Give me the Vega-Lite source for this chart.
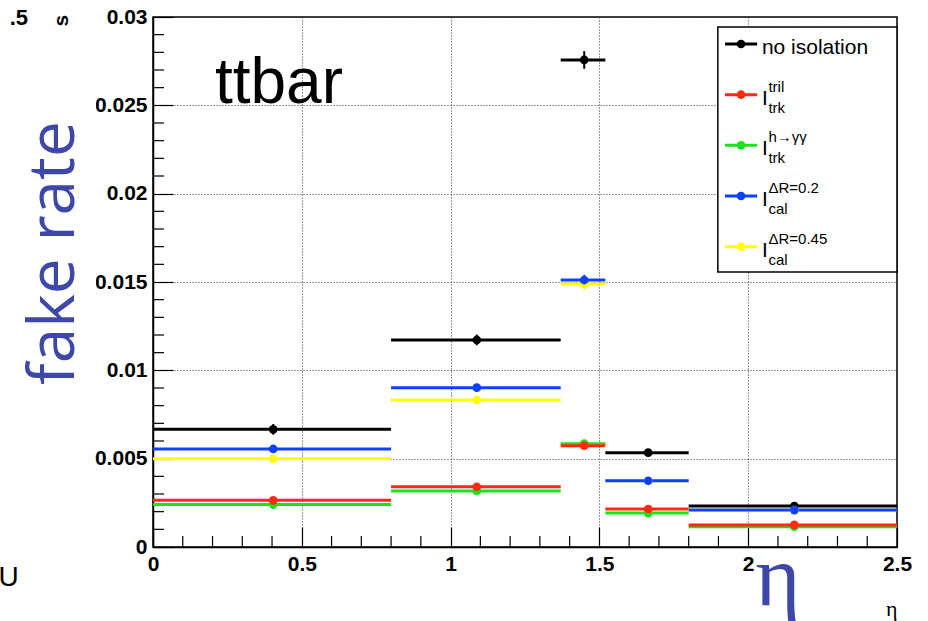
{
  "$schema": "https://vega.github.io/schema/vega-lite/v6.json",
  "width": 744,
  "height": 530,
  "autosize": {"type": "none"},
  "padding": {"left": 153, "top": 17, "right": 31, "bottom": 74},
  "background": "white",
  "config": {
    "view": {"stroke": "black", "strokeWidth": 1.5},
    "font": "Liberation Sans"
  },
  "datasets": {
    "bins": [
      {"series": "no isolation", "xlo": 0, "xhi": 0.8, "xm": 0.404, "y": 0.00666, "err": 0.0003},
      {"series": "no isolation", "xlo": 0.8, "xhi": 1.37, "xm": 1.088, "y": 0.01172, "err": 0.0003},
      {"series": "no isolation", "xlo": 1.37, "xhi": 1.52, "xm": 1.449, "y": 0.02757, "err": 0.0005},
      {"series": "no isolation", "xlo": 1.52, "xhi": 1.8, "xm": 1.664, "y": 0.00534, "err": 0.0002},
      {"series": "no isolation", "xlo": 1.8, "xhi": 2.5, "xm": 2.155, "y": 0.00232, "err": 0.0002},
      {"series": "dR045", "xlo": 0, "xhi": 0.8, "xm": 0.404, "y": 0.0050, "err": 0.0002},
      {"series": "dR045", "xlo": 0.8, "xhi": 1.37, "xm": 1.088, "y": 0.00832, "err": 0.0002},
      {"series": "dR045", "xlo": 1.37, "xhi": 1.52, "xm": 1.449, "y": 0.01489, "err": 0.0003},
      {"series": "dR045", "xlo": 1.52, "xhi": 1.8, "xm": 1.664, "y": 0.00375, "err": 0.0002},
      {"series": "dR045", "xlo": 1.8, "xhi": 2.5, "xm": 2.155, "y": 0.00209, "err": 0.0001},
      {"series": "dR02", "xlo": 0, "xhi": 0.8, "xm": 0.404, "y": 0.00555, "err": 0.0002},
      {"series": "dR02", "xlo": 0.8, "xhi": 1.37, "xm": 1.088, "y": 0.00902, "err": 0.0002},
      {"series": "dR02", "xlo": 1.37, "xhi": 1.52, "xm": 1.449, "y": 0.01511, "err": 0.0003},
      {"series": "dR02", "xlo": 1.52, "xhi": 1.8, "xm": 1.664, "y": 0.00375, "err": 0.0002},
      {"series": "dR02", "xlo": 1.8, "xhi": 2.5, "xm": 2.155, "y": 0.00209, "err": 0.0001},
      {"series": "hgg", "xlo": 0, "xhi": 0.8, "xm": 0.404, "y": 0.0024, "err": 0.0002},
      {"series": "hgg", "xlo": 0.8, "xhi": 1.37, "xm": 1.088, "y": 0.00317, "err": 0.0002},
      {"series": "hgg", "xlo": 1.37, "xhi": 1.52, "xm": 1.449, "y": 0.00585, "err": 0.0002},
      {"series": "hgg", "xlo": 1.52, "xhi": 1.8, "xm": 1.664, "y": 0.00192, "err": 0.0001},
      {"series": "hgg", "xlo": 1.8, "xhi": 2.5, "xm": 2.155, "y": 0.00115, "err": 0.0001},
      {"series": "tril", "xlo": 0, "xhi": 0.8, "xm": 0.404, "y": 0.00264, "err": 0.0002},
      {"series": "tril", "xlo": 0.8, "xhi": 1.37, "xm": 1.088, "y": 0.00341, "err": 0.0002},
      {"series": "tril", "xlo": 1.37, "xhi": 1.52, "xm": 1.449, "y": 0.00573, "err": 0.0002},
      {"series": "tril", "xlo": 1.52, "xhi": 1.8, "xm": 1.664, "y": 0.00215, "err": 0.0001},
      {"series": "tril", "xlo": 1.8, "xhi": 2.5, "xm": 2.155, "y": 0.00125, "err": 0.0001}
    ],
    "legend": [
      {"series": "no isolation", "main": "no isolation", "sup": "", "sub": ""},
      {"series": "tril", "main": "I", "sup": "tril", "sub": "trk"},
      {"series": "hgg", "main": "I", "sup": "h→γγ", "sub": "trk"},
      {"series": "dR02", "main": "I", "sup": "ΔR=0.2", "sub": "cal"},
      {"series": "dR045", "main": "I", "sup": "ΔR=0.45", "sub": "cal"}
    ],
    "xminor": [
      {"t": 0.1}, {"t": 0.2}, {"t": 0.3}, {"t": 0.4}, {"t": 0.6}, {"t": 0.7}, {"t": 0.8}, {"t": 0.9},
      {"t": 1.1}, {"t": 1.2}, {"t": 1.3}, {"t": 1.4}, {"t": 1.6}, {"t": 1.7}, {"t": 1.8}, {"t": 1.9},
      {"t": 2.1}, {"t": 2.2}, {"t": 2.3}, {"t": 2.4}
    ],
    "yminor": [
      {"t": 0.001}, {"t": 0.002}, {"t": 0.003}, {"t": 0.004}, {"t": 0.006}, {"t": 0.007}, {"t": 0.008}, {"t": 0.009},
      {"t": 0.011}, {"t": 0.012}, {"t": 0.013}, {"t": 0.014}, {"t": 0.016}, {"t": 0.017}, {"t": 0.018}, {"t": 0.019},
      {"t": 0.021}, {"t": 0.022}, {"t": 0.023}, {"t": 0.024}, {"t": 0.026}, {"t": 0.027}, {"t": 0.028}, {"t": 0.029}
    ]
  },
  "layer": [
    {
      "data": {"name": "bins"},
      "layer": [
        {
          "mark": {"type": "rule", "strokeWidth": 3},
          "encoding": {
            "x": {
              "field": "xlo", "type": "quantitative", "title": "η",
              "scale": {"domain": [0, 2.5], "nice": false, "zero": false},
              "axis": {
                "values": [0, 0.5, 1, 1.5, 2, 2.5],
                "format": "~g",
                "labelFont": "Liberation Sans", "labelFontWeight": "bold", "labelFontSize": 21, "labelColor": "black",
                "labelOverlap": false, "labelFlush": false, "labelPadding": 26,
                "tickColor": "black", "tickWidth": 1.2, "tickSize": -20,
                "domainColor": "black", "domainWidth": 1.5,
                "grid": true, "gridColor": "#333333", "gridDash": [1, 2], "gridWidth": 1,
                "titleFont": "Liberation Serif", "titleFontSize": 22, "titleFontWeight": "normal", "titleColor": "black",
                "titleAnchor": "end", "titleAlign": "right", "titleX": 744, "titleY": 68, "titleBaseline": "alphabetic"
              }
            },
            "x2": {"field": "xhi"},
            "y": {
              "field": "y", "type": "quantitative", "title": null,
              "scale": {"domain": [0, 0.03], "nice": false, "zero": true},
              "axis": {
                "values": [0, 0.005, 0.01, 0.015, 0.02, 0.025, 0.03],
                "format": "~g", "zindex": 0,
                "labelFont": "Liberation Sans", "labelFontWeight": "bold", "labelFontSize": 21, "labelColor": "black",
                "labelOverlap": false, "labelFlush": false, "labelPadding": 26,
                "tickColor": "black", "tickWidth": 1.2, "tickSize": -20,
                "domainColor": "black", "domainWidth": 1.5,
                "grid": true, "gridColor": "#333333", "gridDash": [1, 2], "gridWidth": 1
              }
            },
            "color": {
              "field": "series", "type": "nominal",
              "scale": {"domain": ["no isolation", "tril", "hgg", "dR02", "dR045"], "range": ["#000000", "#ff2a10", "#1ee01e", "#1040ff", "#ffff00"]},
              "legend": null
            }
          }
        },
        {
          "data": {"name": "xminor"},
          "mark": {"type": "rule", "color": "black", "strokeWidth": 1.2},
          "encoding": {
            "x": {"field": "t", "type": "quantitative", "title": "η"},
            "y": {"datum": 0},
            "y2": {"datum": 0.00062}
          }
        },
        {
          "data": {"name": "yminor"},
          "mark": {"type": "rule", "color": "black", "strokeWidth": 1.2},
          "encoding": {
            "y": {"field": "t", "type": "quantitative", "title": null},
            "x": {"datum": 0},
            "x2": {"datum": 0.037}
          }
        },
        {
          "mark": {"type": "errorbar", "ticks": false, "thickness": 2},
          "encoding": {
            "x": {"field": "xm", "type": "quantitative", "title": "η"},
            "y": {"field": "y", "type": "quantitative", "title": null},
            "yError": {"field": "err"},
            "color": {"field": "series", "type": "nominal"}
          }
        },
        {
          "mark": {"type": "point", "filled": true, "size": 75, "opacity": 1},
          "encoding": {
            "x": {"field": "xm", "type": "quantitative", "title": "η"},
            "y": {"field": "y", "type": "quantitative", "title": null},
            "color": {"field": "series", "type": "nominal"}
          }
        },
        {
          "data": {"values": [{}]},
          "mark": {"type": "rect", "fill": "white", "clip": false},
          "encoding": {"x": {"datum": -0.52}, "x2": {"datum": -0.1915}, "y": {"datum": 0.00719}, "y2": {"datum": 0.02598}}
        },
        {
          "data": {"values": [{}]},
          "mark": {"type": "text", "text": "fake rate", "font": "Open Sans", "fontSize": 64, "align": "center", "baseline": "alphabetic", "angle": 270, "color": "#3d48a8", "clip": false},
          "encoding": {"x": {"datum": -0.2655}, "y": {"datum": 0.01664}}
        },
        {
          "data": {"values": [{}]},
          "mark": {"type": "text", "text": "ttbar", "font": "Liberation Sans", "fontSize": 64, "align": "left", "baseline": "alphabetic", "color": "black"},
          "encoding": {"x": {"datum": 0.208}, "y": {"datum": 0.02511}}
        },
        {
          "data": {"values": [{}]},
          "mark": {"type": "text", "text": "η", "font": "Liberation Serif", "fontSize": 86, "align": "center", "baseline": "alphabetic", "color": "#3d48a8", "clip": false},
          "encoding": {"x": {"datum": 2.1}, "y": {"datum": -0.0033}}
        },
        {
          "data": {"values": [{}]},
          "mark": {"type": "text", "text": ".5", "font": "Liberation Sans", "fontWeight": "bold", "fontSize": 22, "align": "right", "baseline": "alphabetic", "color": "black"},
          "encoding": {"x": {"datum": -0.42}, "y": {"datum": 0.02955}}
        },
        {
          "data": {"values": [{}]},
          "mark": {"type": "text", "text": "s", "font": "Liberation Sans", "fontWeight": "bold", "fontSize": 21, "align": "center", "baseline": "middle", "angle": 270, "color": "black"},
          "encoding": {"x": {"datum": -0.306}, "y": {"datum": 0.0298}}
        },
        {
          "data": {"values": [{}]},
          "mark": {"type": "text", "text": "U", "font": "Liberation Sans", "fontSize": 28, "align": "center", "baseline": "middle", "color": "black"},
          "encoding": {"x": {"datum": -0.485}, "y": {"datum": -0.00175}}
        },
        {
          "data": {"values": [{}]},
          "mark": {"type": "rect", "fill": "white", "stroke": "black", "strokeWidth": 1.5},
          "encoding": {"x": {"datum": 1.898}, "x2": {"datum": 2.5}, "y": {"datum": 0.01557}, "y2": {"datum": 0.02943}}
        }
      ]
    },
    {
      "data": {"name": "legend"},
      "layer": [
        {
          "mark": {"type": "rule", "strokeWidth": 3},
          "encoding": {
            "x": {"datum": 1.922}, "x2": {"datum": 2.030},
            "y": {"field": "series", "type": "ordinal", "scale": {"type": "point", "domain": ["no isolation", "tril", "hgg", "dR02", "dR045"], "range": [27, 229.7], "padding": 0}, "axis": null},
            "color": {"field": "series", "type": "nominal"}
          }
        },
        {
          "mark": {"type": "point", "filled": true, "size": 75, "opacity": 1},
          "encoding": {
            "x": {"datum": 1.976},
            "y": {"field": "series", "type": "ordinal", "axis": null},
            "color": {"field": "series", "type": "nominal"}
          }
        },
        {
          "mark": {"type": "text", "font": "Liberation Sans", "fontSize": 21, "align": "left", "baseline": "alphabetic", "dy": 10, "color": "black"},
          "encoding": {
            "x": {"datum": 2.046},
            "y": {"field": "series", "type": "ordinal", "axis": null},
            "text": {"field": "main"}
          }
        },
        {
          "mark": {"type": "text", "font": "Liberation Sans", "fontSize": 15, "align": "left", "baseline": "alphabetic", "dy": -3, "color": "black"},
          "encoding": {
            "x": {"datum": 2.068},
            "y": {"field": "series", "type": "ordinal", "axis": null},
            "text": {"field": "sup"}
          }
        },
        {
          "mark": {"type": "text", "font": "Liberation Sans", "fontSize": 15, "align": "left", "baseline": "alphabetic", "dy": 18, "color": "black"},
          "encoding": {
            "x": {"datum": 2.068},
            "y": {"field": "series", "type": "ordinal", "axis": null},
            "text": {"field": "sub"}
          }
        }
      ]
    }
  ],
  "resolve": {"scale": {"y": "independent"}}
}
